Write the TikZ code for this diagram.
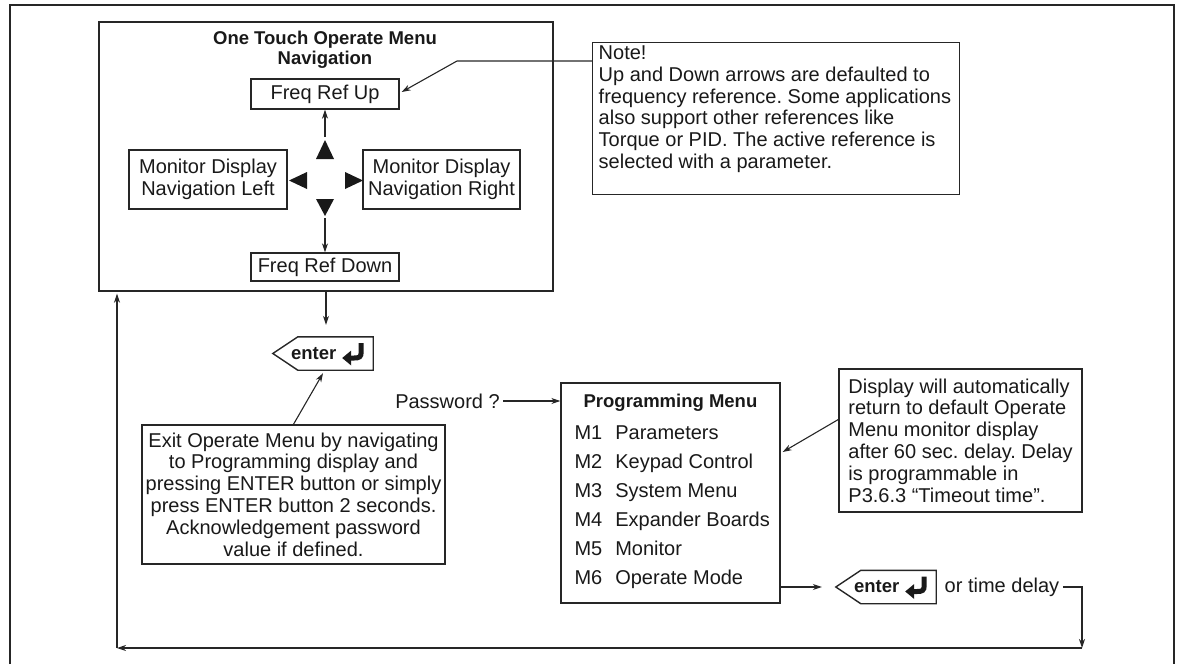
\documentclass[tikz,border=0pt]{standalone}
\usepackage{fontspec}
\setmainfont{Liberation Sans}
\usetikzlibrary{calc}
\usetikzlibrary{matrix,positioning,arrows.meta}
\frenchspacing

\newcommand{\diagfont}{\fontsize{20}{21.8}\selectfont}
\newcommand{\diagbold}{\fontsize{18.5}{20}\selectfont\bfseries}

\tikzset{
  frame/.style={draw=black!85, line width=1.4pt},
  box/.style={frame, inner sep=0pt, align=center},
  arr/.style={-{Stealth[length=9pt,width=6pt]}, line width=1.1pt, draw=black!85},
  tri/.style={fill=black!90},
  enterkey/.style={inner sep=0pt, text width=82pt, align=left, minimum height=33pt, font=\diagbold},
  retsym/.pic={
    \fill[black!90] (0,15) -- (9,7.5) -- (9,22.5) -- cycle;
    \draw[black!90, line width=5pt] (19,0) -- (19,9) .. controls (19,14) and (17,15) .. (12,15) -- (8,15);
  }
}
\newcommand{\enterframe}[1]{%
  \draw[frame] ([xshift=-18pt]#1.west) -- ([xshift=7pt]#1.north west)
    -- (#1.north east) -- (#1.south east) -- ([xshift=7pt]#1.south west) -- cycle;
  \pic at ([xshift=-31pt,yshift=10.5pt]#1.east) {retsym};}

\begin{document}
\begin{tikzpicture}[x=1pt, y=-1pt, font=\diagfont, text=black!90]
\useasboundingbox (0,0) rectangle (1180,664);
\draw[line width=1.8pt, black!85] (10,664) -- (10,5) -- (1174,5) -- (1174,664);

% operate menu
\node[box, minimum width=454pt, minimum height=269pt] (nav) at (326,156.5) {};
\node[font=\diagbold, align=center] (navtitle) at (325,50) {One Touch Operate Menu\\Navigation};
\node[box, minimum width=148pt, minimum height=30pt] (up) at (325,94) {Freq Ref Up};
\node[box, minimum width=158pt, minimum height=59pt] (lft) at (208,179.5) {Monitor Display\\Navigation Left};
\node[box, minimum width=157pt, minimum height=59pt] (rgt) at (441.5,179.5) {Monitor Display\\Navigation Right};
\node[box, minimum width=148pt, minimum height=28pt] (dn) at (325,267) {Freq Ref Down};

\coordinate (tup) at (325,140);
\coordinate (tdn) at (325,216);
\coordinate (tlf) at (289,180.5);
\coordinate (trt) at (363,180.5);
\fill[tri] (tup) -- ++(9,19) -- ++(-18,0) -- cycle;
\fill[tri] (tdn) -- ++(9,-17) -- ++(-18,0) -- cycle;
\fill[tri] (tlf) -- ++(18,-8.5) -- ++(0,17) -- cycle;
\fill[tri] (trt) -- ++(-18,-8.5) -- ++(0,17) -- cycle;
\draw[arr] ([yshift=3pt]tup) -- (up.south);
\draw[arr] ([yshift=-2pt]tdn) -- (dn.north);

% note
\node[frame, anchor=north west, inner xsep=6pt, inner ysep=3pt] (note) at (592,42)
  {\parbox[t][146pt][t]{355pt}{\raggedright Note!\\
   Up and Down arrows are defaulted to\\
   frequency reference. Some applications\\
   also support other references like\\
   Torque or PID. The active reference is\\
   selected with a parameter.}};
\coordinate (nk) at (457,61);
\draw[arr] (note.west |- nk) -- (nk) -- ([xshift=2pt,yshift=2pt]up.east);

% exit
\node[enterkey] (ent1) at (332,353.5) {enter};
\enterframe{ent1}
\draw[arr] (nav.south) -- ([yshift=12pt]nav.south |- ent1.north);
\node[box, minimum width=303pt, minimum height=139pt] (exitn) at (293.5,494.5)
  {Exit Operate Menu by navigating\\
   to Programming display and\\
   pressing ENTER button or simply\\
   press ENTER button 2 seconds.\\
   Acknowledgement password\\
   value if defined.};
\draw[arr] (exitn.north) -- ([xshift=-9pt,yshift=-3pt]ent1.south);

% programming menu
\node[box, minimum width=219pt, minimum height=220pt] (pm) at (670.5,493) {};
\node[font=\diagbold] (pmtitle) at ([yshift=-20pt]pm.north) {Programming Menu};
\matrix (pmlist) [
matrix of nodes,
column sep=13pt,
row sep=9pt,
inner sep=0pt,
nodes={anchor=base west, inner sep=0pt, text height=15pt, text depth=5pt},
anchor=north west
] at ([xshift=14pt,yshift=-42pt]pm.north west) {
M1 & Parameters \\
M2 & Keypad Control \\
M3 & System Menu \\
M4 & Expander Boards \\
M5 & Monitor \\
M6 & Operate Mode \\
};
\node (pw) at (447.5,401) {Password ?};
\draw[arr] (pw.east) -- (pw.east -| pm.west);

\node[box, minimum width=243pt, minimum height=143pt, align=left] (disp) at (960.5,440.5)
  {Display will automatically\\
   return to default Operate\\
   Menu monitor display\\
   after 60 sec. delay. Delay\\
   is programmable in\\
   P3.6.3 ``Timeout time''.};
\draw[arr] ([yshift=21pt]disp.west) -- ([xshift=2pt,yshift=41pt]pm.east);

% back to operate menu
\node[enterkey] (ent2) at (895,587) {enter};
\enterframe{ent2}
\draw[arr] (pm.east |- ent2.west) -- ([xshift=-32pt]ent2.west);
\node[right=5pt of ent2] (otd) {or time delay};
\coordinate (rc) at (1082,648);
\coordinate (lc) at (117,648);
\draw[arr] (otd.east) -| (rc);
\draw[arr] (rc) -- (lc);
\draw[arr] (lc) -- ([yshift=-2pt]lc |- nav.south);

\end{tikzpicture}
\end{document}
